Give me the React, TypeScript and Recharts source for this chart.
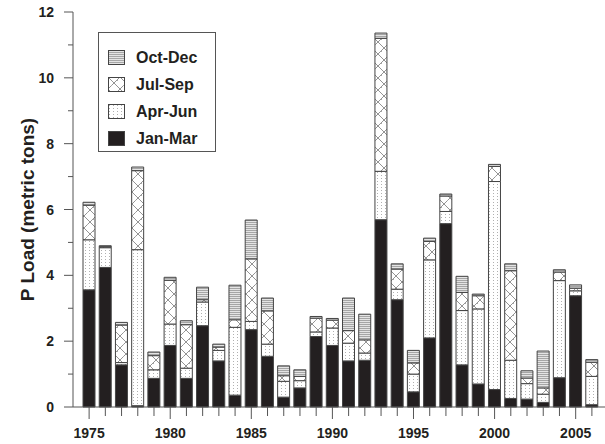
import { BarChart, Bar, XAxis, YAxis } from "recharts";

const years = [
  1975, 1976, 1977, 1978, 1979, 1980, 1981, 1982, 1983, 1984, 1985, 1986, 1987, 1988, 1989, 1990,
  1991, 1992, 1993, 1994, 1995, 1996, 1997, 1998, 1999, 2000, 2001, 2002, 2003, 2004, 2005, 2006,
];
const janMar = [
  3.56, 4.24, 1.28, 0.04, 0.87, 1.87, 0.87, 2.47, 1.4, 0.36, 2.35, 1.54, 0.3, 0.58, 2.14, 1.87,
  1.4, 1.42, 5.69, 3.26, 0.46, 2.1, 5.57, 1.28, 0.7, 0.53, 0.26, 0.24, 0.14, 0.89, 3.38, 0.07,
];
const aprJun = [
  1.52, 0.6, 0.07, 4.74, 0.26, 0.65, 0.31, 0.72, 0.32, 2.06, 0.25, 0.37, 0.48, 0.22, 0.14, 0.53,
  0.54, 0.22, 1.47, 0.32, 0.54, 2.37, 0.37, 1.65, 2.28, 6.32, 1.16, 0.47, 0.25, 2.95, 0.15, 0.86,
];
const julSep = [
  1.05, 0.03, 1.14, 2.4, 0.43, 1.33, 1.32, 0.07, 0.1, 0.23, 1.9, 1.01, 0.17, 0.13, 0.42, 0.24,
  0.38, 0.4, 4.04, 0.61, 0.34, 0.56, 0.47, 0.55, 0.4, 0.46, 2.72, 0.17, 0.19, 0.26, 0.08, 0.43,
];
const octDec = [
  0.09, 0.03, 0.08, 0.11, 0.11, 0.09, 0.12, 0.38, 0.09, 1.05, 1.18, 0.39, 0.3, 0.2, 0.05, 0.05,
  0.99, 0.78, 0.16, 0.16, 0.38, 0.1, 0.06, 0.49, 0.05, 0.06, 0.21, 0.22, 1.12, 0.07, 0.1, 0.08,
];
const yTicks = [0, 1, 2, 3, 4, 5, 6, 7, 8, 9, 10, 11, 12];
const yearLabels = [1975, 1980, 1985, 1990, 1995, 2000, 2005];

const data = years.map((year, i) => ({
  year,
  jan: janMar[i],
  apr: aprJun[i],
  jul: julSep[i],
  oct: octDec[i],
}));

const FONT = '"Liberation Sans", Arial, Helvetica, sans-serif';
const INK = "#231f20";
const AXIS = "#555";

const series = [
  { key: "jan", name: "Jan-Mar", fill: INK },
  { key: "apr", name: "Apr-Jun", fill: "url(#pAprJun)" },
  { key: "jul", name: "Jul-Sep", fill: "url(#pJulSep)" },
  { key: "oct", name: "Oct-Dec", fill: "url(#pOctDec)" },
];

const Patterns = () => (
  <svg width="0" height="0" style={{ position: "absolute" }}>
    <defs>
      <pattern id="pAprJun" width="4" height="3" patternUnits="userSpaceOnUse">
        <rect width="4" height="3" fill="#fff" />
        <rect x="1" y="1" width="1" height="1" fill="#b0b0b0" />
      </pattern>
      <pattern id="pJulSep" width="12" height="12" patternUnits="userSpaceOnUse">
        <rect width="12" height="12" fill="#fff" />
        <path d="M0 0 L12 12 M12 0 L0 12" stroke="#666" strokeWidth="0.7" />
        <rect x="3" y="8" width="1" height="1" fill="#aaa" />
        <rect x="9" y="3" width="1" height="1" fill="#aaa" />
      </pattern>
      <pattern id="pOctDec" width="2" height="2" patternUnits="userSpaceOnUse">
        <rect width="2" height="2" fill="#e4e4e4" />
        <rect width="2" height="1" fill="#a6a6a6" />
      </pattern>
    </defs>
  </svg>
);

const LegendBox = () => (
  <div
    style={{
      position: "absolute",
      left: 98,
      top: 32,
      border: `1px solid ${AXIS}`,
      background: "#fff",
      width: 118,
      height: 120,
      boxSizing: "border-box",
      padding: "11px 0 0 9px",
      fontFamily: FONT,
    }}
  >
    {[...series].reverse().map((s) => (
      <div key={s.key} style={{ display: "flex", alignItems: "center", height: 27 }}>
        <svg width="17" height="15" style={{ marginRight: 11 }}>
          <rect x="0.5" y="0.5" width="16" height="14" fill={s.fill} stroke="#444" />
        </svg>
        <span style={{ fontSize: 16, fontWeight: "bold", color: INK }}>{s.name}</span>
      </div>
    ))}
  </div>
);

const XTick = ({ x, y, payload }: any) => {
  const major = yearLabels.includes(payload.value);
  return (
    <g>
      <line x1={x} x2={x} y1={y} y2={y + (major ? 12 : 9)} stroke={AXIS} />
      {major && (
        <text x={x} y={y + 31} textAnchor="middle" fontSize={14} fontWeight="bold" fill={INK} fontFamily={FONT}>
          {payload.value}
        </text>
      )}
    </g>
  );
};

const YTick = ({ x, y, payload }: any) => {
  const major = payload.value % 2 === 0;
  return (
    <g>
      <line x1={x} x2={x - (major ? 9 : 5)} y1={y} y2={y} stroke={AXIS} />
      {major && (
        <text x={x - 19} y={y + 5} textAnchor="end" fontSize={14} fontWeight="bold" fill={INK} fontFamily={FONT}>
          {payload.value}
        </text>
      )}
    </g>
  );
};

export default function App() {
  return (
    <div style={{ position: "absolute", left: 0, top: 0, width: 605, height: 444, background: "#fff" }}>
      <Patterns />
      <BarChart width={605} height={444} data={data} margin={{ top: 12, right: 0, bottom: 0, left: 0 }}>
        <XAxis
          dataKey="year"
          interval={0}
          height={37}
          padding={{ left: 8, right: 5 }}
          tickSize={0}
          tickMargin={0}
          tick={<XTick />}
          axisLine={{ stroke: AXIS }}
        />
        <YAxis
          domain={[0, 12]}
          ticks={yTicks}
          interval={0}
          width={73}
          tickSize={0}
          tickMargin={0}
          tick={<YTick />}
          axisLine={{ stroke: AXIS }}
          label={{
            value: "P Load (metric tons)",
            angle: -90,
            position: "insideLeft",
            dx: 22,
            dy: 0,
            style: { fontSize: 19, fontWeight: "bold", fill: INK, fontFamily: FONT, textAnchor: "middle" },
          }}
        />
        {series.map((s) => (
          <Bar
            key={s.key}
            dataKey={s.key}
            name={s.name}
            stackId="q"
            fill={s.fill}
            stroke="#444"
            strokeWidth={1}
            barSize={12}
            isAnimationActive={false}
          />
        ))}
      </BarChart>
      <LegendBox />
    </div>
  );
}
